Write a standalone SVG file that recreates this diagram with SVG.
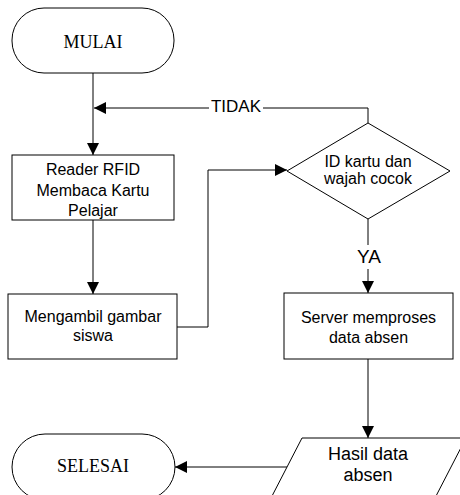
<svg xmlns="http://www.w3.org/2000/svg" width="460" height="495" viewBox="0 0 460 495">
  <style>
    .shape { fill: #fff; stroke: #000; stroke-width: 1; }
    .wire { fill: none; stroke: #000; stroke-width: 1; }
    .serif { font-family: "Liberation Serif", "Times New Roman", serif; font-size: 18px; fill: #000; text-anchor: middle; }
    .sans { font-family: "Liberation Sans", Arial, sans-serif; font-size: 16px; fill: #000; text-anchor: middle; }
  </style>
  <defs>
    <marker id="arrow" markerUnits="userSpaceOnUse" markerWidth="12" markerHeight="12" refX="12" refY="6" orient="auto">
      <path d="M0,0 L12,6 L0,12 Z" fill="#000"/>
    </marker>
  </defs>
  <rect width="460" height="495" fill="#fff"/>

  <!-- connectors -->
  <g id="connectors">
    <line class="wire" x1="93" y1="73" x2="93" y2="155" marker-end="url(#arrow)"/>
    <polyline class="wire" points="368,123 368,108 263,108"/>
    <line class="wire" x1="209" y1="108" x2="94" y2="108" marker-end="url(#arrow)"/>
    <text class="sans" x="236" y="112" style="font-size:17px">TIDAK</text>
    <line class="wire" x1="93" y1="220" x2="93" y2="294" marker-end="url(#arrow)"/>
    <polyline class="wire" points="177,327 208,327 208,170 287,170" marker-end="url(#arrow)"/>
    <line class="wire" x1="368" y1="219" x2="368" y2="245"/>
    <text class="sans" x="369" y="263" style="font-size:19px">YA</text>
    <line class="wire" x1="368" y1="269" x2="368" y2="293" marker-end="url(#arrow)"/>
    <line class="wire" x1="368" y1="359" x2="368" y2="438" marker-end="url(#arrow)"/>
    <line class="wire" x1="287" y1="467" x2="175" y2="467" marker-end="url(#arrow)"/>
  </g>

  <g id="mulai">
    <rect class="shape" x="12" y="8" width="162" height="65" rx="32" ry="32"/>
    <text class="serif" x="93" y="48">MULAI</text>
  </g>

  <g id="reader">
    <rect class="shape" x="12" y="155" width="162" height="65"/>
    <text class="sans" x="93" y="175">Reader RFID</text>
    <text class="sans" x="93" y="195.5">Membaca Kartu</text>
    <text class="sans" x="93" y="216">Pelajar</text>
  </g>

  <g id="ambil">
    <rect class="shape" x="8" y="294" width="169" height="65"/>
    <text class="sans" x="93" y="322">Mengambil gambar</text>
    <text class="sans" x="93" y="341">siswa</text>
  </g>

  <g id="cocok">
    <polygon class="shape" points="287,171 368,123 450,171 368,219"/>
    <text class="sans" x="368" y="167">ID kartu dan</text>
    <text class="sans" x="368" y="184">wajah cocok</text>
  </g>

  <g id="server">
    <rect class="shape" x="284" y="293" width="169" height="66"/>
    <text class="sans" x="368.5" y="323">Server memproses</text>
    <text class="sans" x="368.5" y="343">data absen</text>
  </g>

  <g id="hasil">
    <polygon class="shape" points="302,438 466,438 435,498 271,498"/>
    <text class="sans" x="368" y="460" style="font-size:18px">Hasil data</text>
    <text class="sans" x="368" y="481" style="font-size:18px">absen</text>
  </g>

  <g id="selesai">
    <rect class="shape" x="12" y="434" width="163" height="66" rx="33" ry="33"/>
    <text class="serif" x="93" y="472">SELESAI</text>
  </g>
</svg>
